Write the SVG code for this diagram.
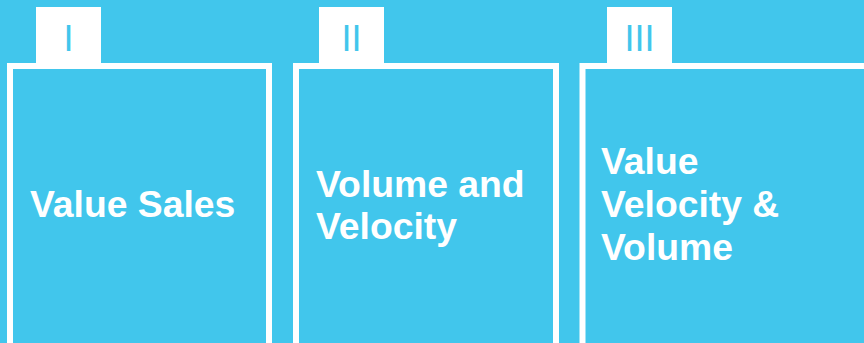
<svg xmlns="http://www.w3.org/2000/svg" width="864" height="343" viewBox="0 0 864 343">
<style>
.box{fill:none;stroke:#fff;stroke-width:6}
.tab{fill:#fff}
.num{font-family:"Liberation Sans",Arial,sans-serif;font-size:36px;fill:#41C6EC;text-anchor:middle}
.lbl{font-family:"Liberation Sans",Arial,sans-serif;font-size:37.3px;font-weight:bold;fill:#fff}
</style>
<rect width="864" height="343" fill="#41C6EC"/>
<g id="node1">
<rect class="box" x="10" y="66" width="259" height="280"/>
<rect class="tab" x="36" y="7" width="65" height="56"/>
<text class="num" x="68.5" y="51">I</text>
<text class="lbl" x="30" y="217">Value Sales</text>
</g>
<g id="node2">
<rect class="box" x="296" y="66" width="260" height="280"/>
<rect class="tab" x="319" y="7" width="65" height="56"/>
<text class="num" x="351.5" y="51">II</text>
<text class="lbl"><tspan x="316" y="197">Volume and</tspan><tspan x="316" y="239">Velocity</tspan></text>
</g>
<g id="node3">
<rect class="box" x="582.5" y="66" width="300" height="280"/>
<rect class="tab" x="607" y="7" width="65" height="56"/>
<text class="num" x="639.5" y="51">III</text>
<text class="lbl"><tspan x="601" y="174">Value</tspan><tspan x="601" y="217">Velocity &amp;</tspan><tspan x="601" y="260">Volume</tspan></text>
</g>
<g id="connectors"/>
</svg>
